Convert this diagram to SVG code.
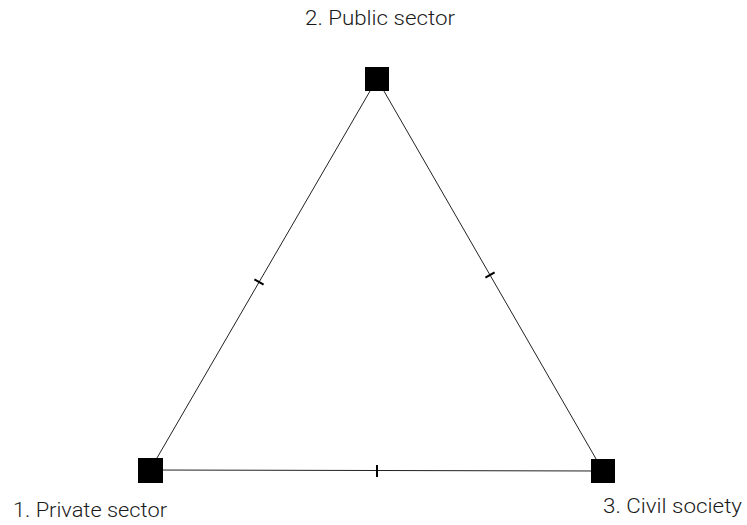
<svg xmlns="http://www.w3.org/2000/svg" width="747" height="525" viewBox="0 0 747 525">
<style>
.lbl{font-family:Roboto,"Open Sans","Liberation Sans",Arial,sans-serif;font-weight:300;font-size:19.5px;fill:#1a1a1a;}
.edge{stroke:#222;stroke-width:1;fill:none;}
.tick{stroke:#000;stroke-width:2;}
.node{fill:#000;}
</style>
<rect width="747" height="525" fill="#fff"/>
<g id="connectors">
<line class="edge" x1="377" y1="79" x2="150" y2="470"/>
<line class="edge" x1="377" y1="79" x2="603" y2="471"/>
<line class="edge" x1="150" y1="470" x2="603" y2="471"/>
<line class="tick" x1="254.4" y1="279.3" x2="263.6" y2="284.7"/>
<line class="tick" x1="485.4" y1="277.7" x2="494.6" y2="272.3"/>
<line class="tick" x1="377" y1="465" x2="377" y2="477"/>
</g>
<g id="node-public">
<rect class="node" x="365" y="67" width="24" height="24"/>
<text class="lbl" x="305" y="25" textLength="150" lengthAdjust="spacingAndGlyphs">2. Public sector</text>
</g>
<g id="node-private">
<rect class="node" x="138" y="458" width="25" height="25"/>
<text class="lbl" x="13" y="517" textLength="154" lengthAdjust="spacingAndGlyphs">1. Private sector</text>
</g>
<g id="node-civil">
<rect class="node" x="591" y="459" width="24" height="24"/>
<text class="lbl" x="603" y="513" textLength="139" lengthAdjust="spacingAndGlyphs">3. Civil society</text>
</g>
</svg>
